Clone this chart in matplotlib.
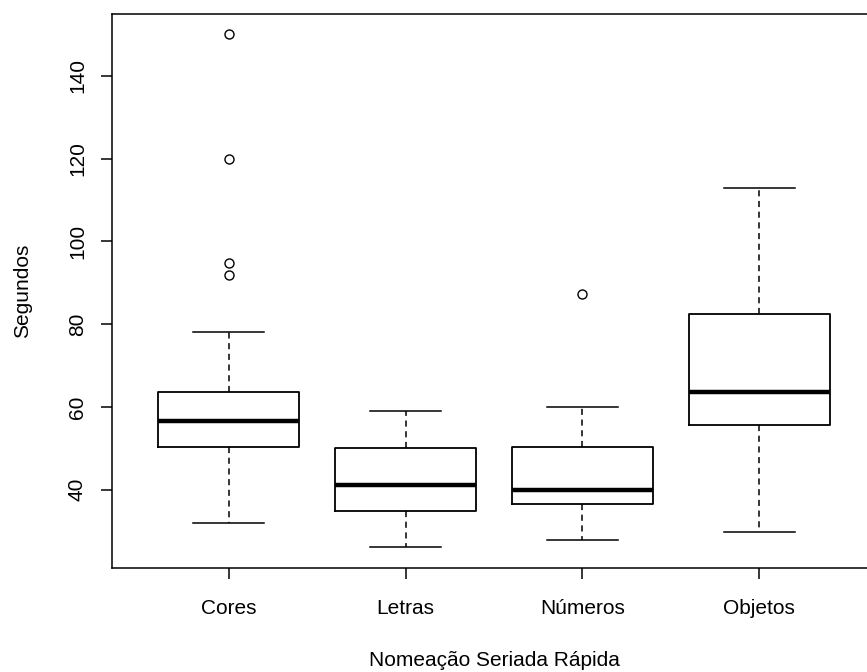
import matplotlib
matplotlib.use("Agg")
import matplotlib.pyplot as plt

# valores
categorias = ["Cores", "Letras", "Números", "Objetos"]
mediana = [56.5, 41.0, 40.0, 63.7]
q1 = [50.4, 34.9, 36.4, 55.5]
q3 = [63.5, 50.0, 50.4, 82.4]
bigode_min = [32.0, 26.0, 27.9, 29.8]
bigode_max = [78.0, 58.9, 60.0, 113.0]
outliers = [[150.2, 120.0, 94.7, 91.8], [], [87.2], []]

plt.rcParams["font.family"] = ["Liberation Sans", "DejaVu Sans"]

stats = []
for i, nome in enumerate(categorias):
    stats.append({
        "label": nome,
        "med": mediana[i],
        "q1": q1[i],
        "q3": q3[i],
        "whislo": bigode_min[i],
        "whishi": bigode_max[i],
        "fliers": outliers[i],
    })

fig = plt.figure(figsize=(8.67, 6.72), dpi=100)
ax = fig.add_axes([112 / 867, 1 - 568 / 672, (876 - 112) / 867, (568 - 14) / 672])

ax.bxp(
    stats,
    positions=[1, 2, 3, 4],
    widths=0.8,
    patch_artist=False,
    boxprops=dict(color="black", linewidth=1.3),
    medianprops=dict(color="black", linewidth=3.2, solid_capstyle="butt"),
    whiskerprops=dict(color="black", linewidth=1.1, linestyle=(0, (4, 3))),
    capprops=dict(color="black", linewidth=1.1),
    capwidths=0.4,
    flierprops=dict(marker="o", markerfacecolor="none", markeredgecolor="black",
                    markersize=6.5, markeredgewidth=1.0),
)

ax.set_xlim(0.34, 4.66)
ax.set_ylim(21.04, 154.96)
ax.set_yticks([40, 60, 80, 100, 120, 140])
ax.set_yticklabels(["40", "60", "80", "100", "120", "140"], rotation=90, va="center")
ax.set_xticks([1, 2, 3, 4])
ax.set_xticklabels(categorias)
ax.tick_params(axis="both", direction="out", length=8, width=1.1, labelsize=15)
ax.tick_params(axis="x", pad=14)
ax.tick_params(axis="y", pad=10)
for s in ax.spines.values():
    s.set_linewidth(1.1)

ax.set_ylabel("Segundos", fontsize=15, labelpad=26)
ax.set_xlabel("Nomeação Seriada Rápida", fontsize=15, labelpad=24)

fig.savefig("out.png", dpi=100)
